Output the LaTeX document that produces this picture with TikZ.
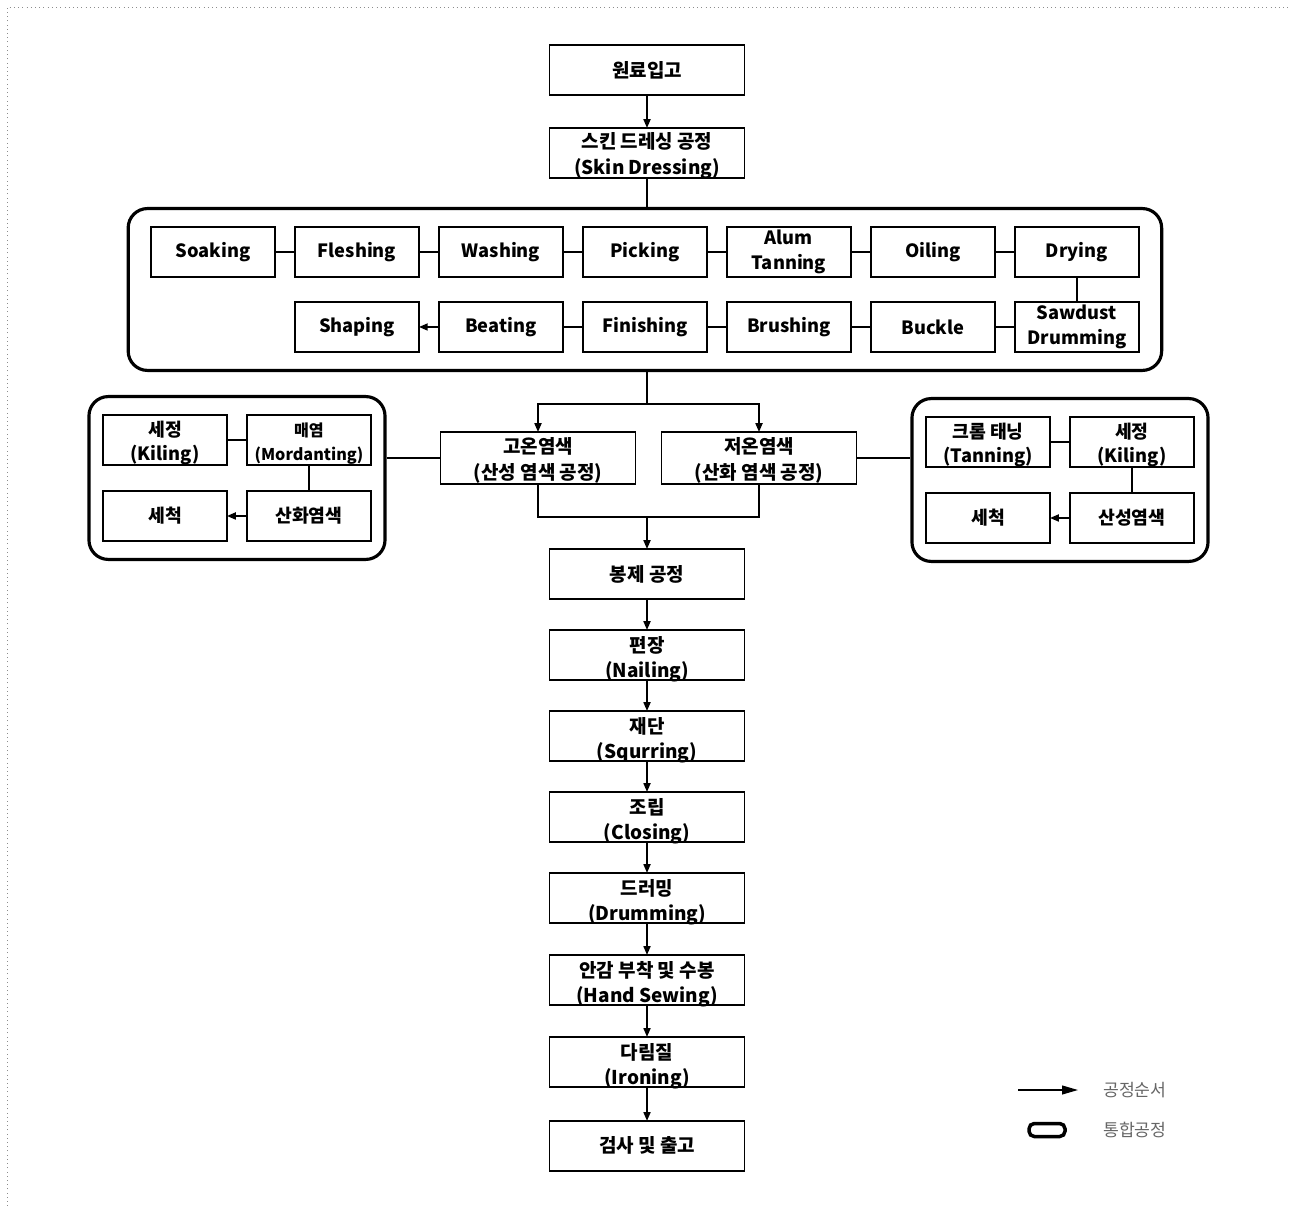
\documentclass[tikz,border=0pt]{standalone}
\usepackage{fontspec}
\setmainfont{Noto Sans CJK KR}
\usetikzlibrary{arrows.meta,positioning,fit}

\begin{document}
\begin{tikzpicture}[
    x=0.02cm, y=-0.02cm,
    box/.style={draw, line width=0.9pt, align=center, outer sep=0pt,
                font=\fontsize{10.8}{14.5}\selectfont\bfseries,
                inner sep=1pt, minimum width=3.9cm, minimum height=1cm},
    sbox/.style={box, minimum width=2.48cm, font=\fontsize{10.4}{14}\selectfont\bfseries},
    two/.style={text height=#1, text depth=0pt},
    two/.default=24pt,
    grp/.style={draw, line width=1.8pt, rounded corners=11pt},
    ln/.style={line width=0.9pt},
    ar/.style={-{Triangle[length=5pt, width=4pt]}, line width=0.9pt},
    legtxt/.style={font=\fontsize{9.8}{12}\selectfont, text=black!60, anchor=west}
  ]
  \useasboundingbox (0,0) rectangle (1291,1206);
  \draw[black!45, dotted] (7,1206) -- (7,7) -- (1291,7);

  % top of the main column
  \node[box] (raw) at (647,70) {원료입고};
  \node[box, two, below=0.66cm of raw] (skin) {스킨 드레싱 공정\\(Skin Dressing)};
  \draw[ar] (raw) -- (skin);

  % skin dressing steps
  \node[sbox] (soak) at (213,252) {Soaking};
  \node[sbox, right=0.4cm of soak] (flesh) {Fleshing};
  \node[sbox, right=0.4cm of flesh] (wash) {Washing};
  \node[sbox, right=0.4cm of wash] (pick) {Picking};
  \node[sbox, right=0.4cm of pick] (alum) {Alum\\Tanning};
  \node[sbox, right=0.4cm of alum] (oil) {Oiling};
  \node[sbox, right=0.4cm of oil] (dry) {Drying};
  \node[sbox, below=0.5cm of dry] (saw) {Sawdust\\Drumming};
  \node[sbox, left=0.4cm of saw] (buck) {Buckle};
  \node[sbox, left=0.4cm of buck] (brush) {Brushing};
  \node[sbox, left=0.4cm of brush] (fin) {Finishing};
  \node[sbox, left=0.4cm of fin] (beat) {Beating};
  \node[sbox, left=0.4cm of beat] (shape) {Shaping};

  \draw[ln] (soak) -- (flesh) -- (wash) -- (pick) -- (alum) -- (oil) -- (dry)
            -- (saw) -- (buck) -- (brush) -- (fin) -- (beat);
  \draw[ar] (beat) -- (shape);

  \node[grp, fit=(soak)(dry)(shape)(saw), inner xsep=13pt, inner ysep=10.5pt] (proc) {};
  \draw[ln] (skin) -- (skin |- proc.north);

  % dyeing
  \node[box, two, minimum height=1.04cm] (hot) at (538,458) {고온염색\\(산성 염색 공정)};
  \node[box, two, minimum height=1.04cm] (cold) at (759,458) {저온염색\\(산화 염색 공정)};
  \coordinate (split) at (647,404);
  \coordinate (merge) at (647,517);
  \draw[ln] (split |- proc.south) -- (split);
  \draw[ar] (split) -| (hot);
  \draw[ar] (split) -| (cold);
  \draw[ln] (hot) |- (merge) -| (cold);

  % left group
  \node[sbox, two=23.5pt] (lkil) at (165,440) {세정\\(Kiling)};
  \node[sbox, two=23.5pt, right=0.4cm of lkil, font=\fontsize{9.2}{14}\selectfont\bfseries] (lmord)
       {매염\\(Mordanting)};
  \node[sbox, below=0.52cm of lmord] (loxi) {산화염색};
  \node[sbox, left=0.4cm of loxi] (lwash) {세척};
  \draw[ln] (lkil) -- (lmord) -- (loxi);
  \draw[ar] (loxi) -- (lwash);
  \node[grp, fit=(lkil)(lmord)(loxi)(lwash), inner xsep=8pt, inner ysep=10.5pt] (lgrp) {};
  \draw[ln] (hot.west) -- (hot.west -| lgrp.east);

  % right group
  \node[sbox, two=23.5pt] (rchr) at (988,442) {크롬 태닝\\(Tanning)};
  \node[sbox, two=23.5pt, right=0.4cm of rchr] (rkil) {세정\\(Kiling)};
  \node[sbox, below=0.52cm of rkil] (racid) {산성염색};
  \node[sbox, left=0.4cm of racid] (rwash) {세척};
  \draw[ln] (rchr) -- (rkil) -- (racid);
  \draw[ar] (racid) -- (rwash);
  \node[grp, fit=(rchr)(rkil)(racid)(rwash), inner xsep=8pt, inner ysep=10.5pt] (rgrp) {};
  \draw[ln] (cold.east) -- (cold.east -| rgrp.west);

  % rest of the main column
  \node[box, below=0.64cm of merge] (sew) {봉제 공정};
  \node[box, two=26pt, below=0.62cm of sew] (nail) {편장\\(Nailing)};
  \node[box, two=26pt, below=0.62cm of nail] (cut) {재단\\(Squrring)};
  \node[box, two=26pt, below=0.62cm of cut] (close) {조립\\(Closing)};
  \node[box, two=26pt, below=0.62cm of close] (drum) {드러밍\\(Drumming)};
  \node[box, two=26pt, below=0.64cm of drum] (hand) {안감 부착 및 수봉\\(Hand Sewing)};
  \node[box, two=26pt, below=0.64cm of hand] (iron) {다림질\\(Ironing)};
  \node[box, below=0.68cm of iron] (insp) {검사 및 출고};

  \draw[ar] (merge) -- (sew);
  \draw[ar] (sew) -- (nail);
  \draw[ar] (nail) -- (cut);
  \draw[ar] (cut) -- (close);
  \draw[ar] (close) -- (drum);
  \draw[ar] (drum) -- (hand);
  \draw[ar] (hand) -- (iron);
  \draw[ar] (iron) -- (insp);

  % legend
  \coordinate (legA) at (1018,1090);
  \coordinate (legB) at (1078,1090);
  \draw[-{Triangle[length=9pt, width=5pt]}, line width=0.8pt] (legA) -- (legB);
  \node[legtxt] (legarr) at (1097,1090) {공정순서};
  \node[draw, line width=2pt, rounded corners=3pt, minimum width=0.72cm,
        minimum height=0.26cm] (legbox) at (1047,1130) {};
  \node[legtxt] (leggrp) at (1097,1130) {통합공정};
\end{tikzpicture}
\end{document}
